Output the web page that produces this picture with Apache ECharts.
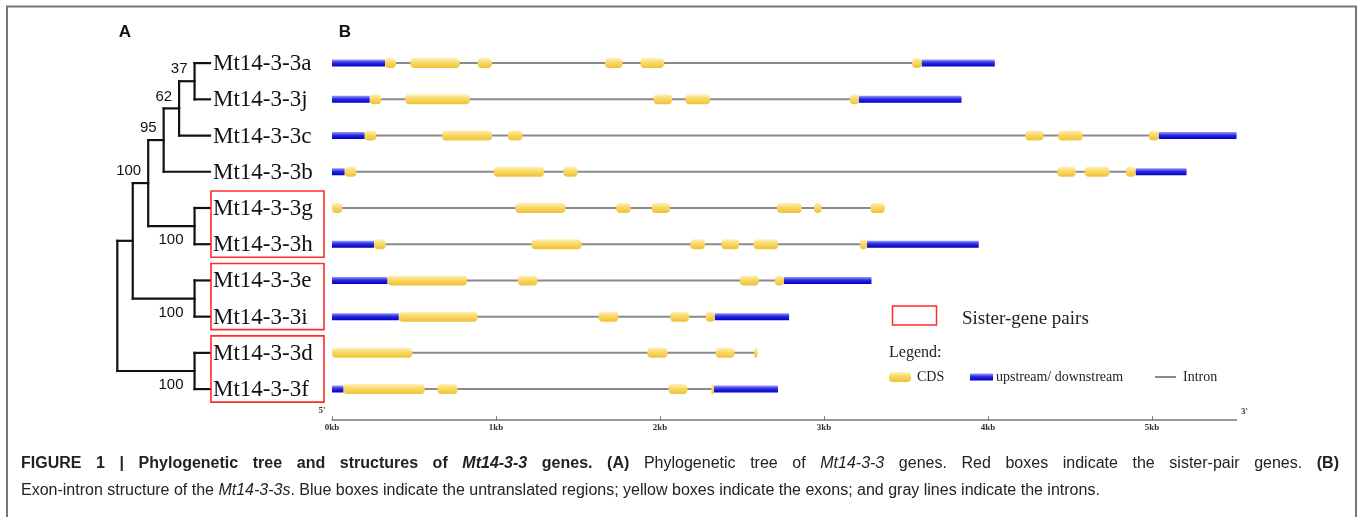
<!DOCTYPE html>
<html><head><meta charset="utf-8">
<script src="https://cdn.jsdelivr.net/npm/echarts@6/dist/echarts.min.js"></script>
<style>html,body{margin:0;padding:0;background:#fff}#c{width:1362px;height:517px}</style>
</head><body><div id="c"></div>
<script>
// ---------------- DATA ----------------
const geneNames = ['Mt14-3-3a','Mt14-3-3j','Mt14-3-3c','Mt14-3-3b','Mt14-3-3g','Mt14-3-3h','Mt14-3-3e','Mt14-3-3i','Mt14-3-3d','Mt14-3-3f'];
// untranslated regions (kb), one list per gene in the order above
const utrSegments = [
  [[0,0.323],[3.595,4.041]],
  [[0,0.230],[3.212,3.838]],
  [[0,0.199],[5.041,5.515]],
  [[0,0.077],[4.900,5.210]],
  [],
  [[0,0.256],[3.262,3.943]],
  [[0,0.338],[2.755,3.289]],
  [[0,0.407],[2.334,2.787]],
  [],
  [[0,0.070],[2.329,2.719]]
];
// coding exons (kb)
const cdsSegments = [
  [[0.323,0.390],[0.478,0.779],[0.888,0.975],[1.665,1.771],[1.881,2.025],[3.537,3.595]],
  [[0.230,0.300],[0.447,0.841],[1.961,2.073],[2.155,2.305],[3.157,3.212]],
  [[0.199,0.270],[0.671,0.976],[1.073,1.161],[4.228,4.338],[4.428,4.577],[4.980,5.041]],
  [[0.077,0.149],[0.986,1.293],[1.411,1.497],[4.423,4.535],[4.590,4.740],[4.840,4.900]],
  [[0,0.063],[1.118,1.423],[1.734,1.821],[1.949,2.061],[2.713,2.864],[2.939,2.985],[3.283,3.370]],
  [[0.256,0.327],[1.216,1.521],[2.185,2.274],[2.374,2.482],[2.571,2.720],[3.218,3.262]],
  [[0.338,0.823],[1.134,1.252],[2.486,2.602],[2.700,2.755]],
  [[0.407,0.887],[1.626,1.746],[2.063,2.177],[2.279,2.334]],
  [[0,0.490],[1.923,2.045],[2.340,2.454],[2.575,2.593]],
  [[0.070,0.565],[0.643,0.765],[2.053,2.167],[2.313,2.329]]
];
const axisTickValues = [0,1,2,3,4,5];
const axisMaxKb = 5.515;
// tree clades: [id, child1, child2, bootstrap]
const treeClades = [
  ['aj','Mt14-3-3a','Mt14-3-3j',37],
  ['ajc','aj','Mt14-3-3c',62],
  ['ajcb','ajc','Mt14-3-3b',95],
  ['gh','Mt14-3-3g','Mt14-3-3h',100],
  ['abcjgh','ajcb','gh',100],
  ['ei','Mt14-3-3e','Mt14-3-3i',100],
  ['n1','abcjgh','ei',null],
  ['df','Mt14-3-3d','Mt14-3-3f',100],
  ['root','n1','df',null]
];
const sisterPairs = [[4,5],[6,7],[8,9]];
const supportBelow = ['gh','ei','df'];

// caption words: [text, style]  (b bold, bi bold-italic, n normal, i italic)
const captionLine1 = [
  ['FIGURE','b'],['1','b'],['|','b'],['Phylogenetic','b'],['tree','b'],['and','b'],['structures','b'],['of','b'],
  ['Mt14-3-3','bi'],['genes.','b'],['(A)','b'],['Phylogenetic','n'],['tree','n'],['of','n'],['Mt14-3-3','i'],
  ['genes.','n'],['Red','n'],['boxes','n'],['indicate','n'],['the','n'],['sister-pair','n'],['genes.','n'],['(B)','b']
];
const captionLine2 = '{n|Exon-intron structure of the }{i|Mt14-3-3s}{n|. Blue boxes indicate the untranslated regions; yellow boxes indicate the exons; and gray lines indicate the introns.}';

// ---------------- BUILD ----------------
const nodes = {};
geneNames.forEach((n,i)=>{ nodes[n] = {level:0, y:i}; });
const treeLines = [];
const supportItems = [];
treeClades.forEach(([id,c1,c2,sup])=>{
  const a = nodes[c1], b = nodes[c2];
  const lv = Math.max(a.level,b.level)+1;
  nodes[id] = {level:lv, y:(a.y+b.y)/2};
  treeLines.push([lv,a.y,lv,b.y]);
  treeLines.push([lv,a.y,a.level,a.y]);
  treeLines.push([lv,b.y,b.level,b.y]);
  if (sup !== null) supportItems.push([lv,(a.y+b.y)/2, sup, supportBelow.indexOf(id)>=0 ? 1 : 0]);
});
const treeDepth = nodes['root'].level;

const intronData = [], utrData = [], cdsData = [];
geneNames.forEach((n,i)=>{
  const all = utrSegments[i].concat(cdsSegments[i]);
  const s = Math.min(...all.map(d=>d[0])), e = Math.max(...all.map(d=>d[1]));
  intronData.push([s,e,i]);
  utrSegments[i].forEach(d=>utrData.push([d[0],d[1],i]));
  cdsSegments[i].forEach(d=>cdsData.push([d[0],d[1],i]));
});

const yellowGrad = () => new echarts.graphic.LinearGradient(0,0,0,1,[
  {offset:0,color:'#fff0b8'},{offset:0.45,color:'#f8d868'},{offset:1,color:'#f0c232'}]);
const blueGrad = () => new echarts.graphic.LinearGradient(0,0,0,1,[
  {offset:0,color:'#9a9aff'},{offset:0.45,color:'#2a2ae2'},{offset:1,color:'#0000c0'}]);

const GRID_TOP = 45, GRID_H = 362.2;
const chart = echarts.init(document.getElementById('c'), null, {renderer:'canvas'});
const serif = '"Liberation Serif","Times New Roman",serif';
const sans = '"Liberation Sans",Arial,sans-serif';

function segRender(h, r, grad){
  return function(params, api){
    const s = api.coord([api.value(0), api.value(2)]);
    const e = api.coord([api.value(1), api.value(2)]);
    return {type:'rect', shape:{x:s[0], y:s[1]-h/2, width:Math.max(e[0]-s[0],1), height:h, r:r},
      style:{fill:grad()}};
  };
}

const option = {
  animation:false,
  backgroundColor:'#fff',
  grid:[
    {left:332, top:GRID_TOP, width:904.5, height:GRID_H},
    {left:117.3, top:GRID_TOP, width:92.7, height:GRID_H}
  ],
  xAxis:[
    {gridIndex:0, type:'value', min:0, max:axisMaxKb, interval:1, offset:13, position:'bottom',
     axisLine:{show:true, onZero:false, lineStyle:{color:'#7a7a7a', width:1.5}},
     axisTick:{show:true, inside:true, length:4, customValues:axisTickValues, lineStyle:{color:'#7a7a7a'}},
     axisLabel:{show:true, customValues:axisTickValues, formatter:v=>v+'kb', margin:3,
       fontFamily:serif, fontSize:9, fontWeight:'bold', color:'#333'},
     splitLine:{show:false}},
    {gridIndex:1, type:'value', min:0, max:treeDepth, inverse:true, show:false}
  ],
  yAxis:[
    {gridIndex:0, type:'value', min:-0.5, max:geneNames.length-0.5, inverse:true, show:false},
    {gridIndex:1, type:'value', min:-0.5, max:geneNames.length-0.5, inverse:true, show:false}
  ],
  series:[
    {type:'custom', xAxisIndex:0, yAxisIndex:0, data:intronData, z:1,
     renderItem:(params, api)=>{
       const s = api.coord([api.value(0), api.value(2)]);
       const e = api.coord([api.value(1), api.value(2)]);
       return {type:'line', shape:{x1:s[0], y1:s[1], x2:e[0], y2:e[1]}, style:{stroke:'#8a8a8a', lineWidth:2}};
     }},
    {type:'custom', xAxisIndex:0, yAxisIndex:0, data:utrData, z:2, renderItem:segRender(7,0,blueGrad)},
    {type:'custom', xAxisIndex:0, yAxisIndex:0, data:cdsData, z:3, renderItem:segRender(10,4,yellowGrad)},
    // tree branches
    {type:'custom', xAxisIndex:1, yAxisIndex:1, data:treeLines, z:2,
     renderItem:(params, api)=>{
       const p1 = api.coord([api.value(0), api.value(1)]);
       const p2 = api.coord([api.value(2), api.value(3)]);
       return {type:'line', shape:{x1:p1[0], y1:p1[1], x2:p2[0], y2:p2[1]},
         style:{stroke:'#111', lineWidth:2.2, lineCap:'square'}};
     }},
    // leaf labels
    {type:'custom', xAxisIndex:1, yAxisIndex:1, data:geneNames.map((n,i)=>[0,i]), z:3,
     renderItem:(params, api)=>{
       const p = api.coord([api.value(0), api.value(1)]);
       return {type:'text', x:p[0]+3, y:p[1]+1,
         style:{text:geneNames[params.dataIndex], font:'23px '+serif, fill:'#111', align:'left', verticalAlign:'middle'}};
     }},
    // bootstrap values
    {type:'custom', xAxisIndex:1, yAxisIndex:1, data:supportItems, z:3,
     renderItem:(params, api)=>{
       const p = api.coord([api.value(0), api.value(1)]);
       const below = api.value(3) === 1;
       return {type:'text', x: below ? p[0]-11 : p[0]-7, y: below ? p[1]+14 : p[1]-12,
         style:{text:String(api.value(2)), font:'15px '+sans, fill:'#111', align:'right', verticalAlign:'middle'}};
     }},
    // sister-pair boxes
    {type:'custom', xAxisIndex:1, yAxisIndex:1, data:sisterPairs, z:4,
     renderItem:(params, api)=>{
       const p1 = api.coord([0, api.value(0)]);
       const p2 = api.coord([0, api.value(1)]);
       return {type:'rect', shape:{x:p1[0]+1, y:p1[1]-17, width:113, height:p2[1]-p1[1]+30},
         style:{fill:'none', stroke:'#ff2a2a', lineWidth:1.6}};
     }}
  ]
};
chart.setOption(option);

const p0 = chart.convertToPixel({xAxisIndex:0, yAxisIndex:0}, [0, geneNames.length-0.5]);
const p1 = chart.convertToPixel({xAxisIndex:0, yAxisIndex:0}, [axisMaxKb, geneNames.length-0.5]);
const axisY = p0[1] + 13;

// caption
const CAP_SIZE = 16;
const capFonts = {
  b:'bold '+CAP_SIZE+'px '+sans,
  bi:'italic bold '+CAP_SIZE+'px '+sans,
  n:CAP_SIZE+'px '+sans,
  i:'italic '+CAP_SIZE+'px '+sans
};
const mctx = document.createElement('canvas').getContext('2d');
function tw(t, f){ mctx.font = f; return mctx.measureText(t).width; }
const capLeft = 21, capRight = 1339, cap1Y = 464, cap2Y = 491;
const wordW = captionLine1.map(w=>tw(w[0], capFonts[w[1]]));
const natural = wordW.reduce((a,b)=>a+b,0);
const gap = (capRight - capLeft - natural) / (captionLine1.length-1);
const capGraphics = [];
let cx = capLeft;
captionLine1.forEach((w,k)=>{
  capGraphics.push({type:'text', x:cx, y:cap1Y, style:{text:w[0], font:capFonts[w[1]], fill:'#222', align:'left', verticalAlign:'middle'}});
  cx += wordW[k] + gap;
});
const captionRich = {
  n:{fontFamily:sans, fontSize:CAP_SIZE, fill:'#222'},
  i:{fontFamily:sans, fontSize:CAP_SIZE, fontStyle:'italic', fill:'#222'}
};
capGraphics.push({type:'text', x:capLeft, y:cap2Y, style:{text:captionLine2, rich:captionRich, verticalAlign:'middle', align:'left'}});

chart.setOption({graphic:[
  {type:'rect', shape:{x:7, y:6.5, width:1349, height:600}, style:{fill:'none', stroke:'#777', lineWidth:2}, silent:true},
  {type:'text', x:125, y:32, style:{text:'A', font:'bold 17px '+sans, fill:'#111', align:'center', verticalAlign:'middle'}},
  {type:'text', x:345, y:32, style:{text:'B', font:'bold 17px '+sans, fill:'#111', align:'center', verticalAlign:'middle'}},
  {type:'text', x:p0[0]-10, y:axisY-10, style:{text:"5'", font:'bold 9px '+serif, fill:'#333', align:'center', verticalAlign:'middle'}},
  {type:'text', x:p1[0]+8, y:axisY-9, style:{text:"3'", font:'bold 9px '+serif, fill:'#333', align:'center', verticalAlign:'middle'}},
  // legend
  {type:'rect', shape:{x:892.5, y:306, width:44, height:19}, style:{fill:'none', stroke:'#ff2a2a', lineWidth:1.5}},
  {type:'text', x:962, y:319, style:{text:'Sister-gene pairs', font:'19px '+serif, fill:'#222', align:'left', verticalAlign:'middle'}},
  {type:'text', x:889, y:353, style:{text:'Legend:', font:'16px '+serif, fill:'#222', align:'left', verticalAlign:'middle'}},
  {type:'rect', shape:{x:889, y:372, width:22, height:10, r:4}, style:{fill:yellowGrad()}},
  {type:'text', x:917, y:377, style:{text:'CDS', font:'14px '+serif, fill:'#222', align:'left', verticalAlign:'middle'}},
  {type:'rect', shape:{x:970, y:373.5, width:23, height:7}, style:{fill:blueGrad()}},
  {type:'text', x:996, y:377, style:{text:'upstream/ downstream', font:'14px '+serif, fill:'#222', align:'left', verticalAlign:'middle'}},
  {type:'line', shape:{x1:1155, y1:377, x2:1176, y2:377}, style:{stroke:'#8a8a8a', lineWidth:2}},
  {type:'text', x:1183, y:377, style:{text:'Intron', font:'14px '+serif, fill:'#222', align:'left', verticalAlign:'middle'}}
].concat(capGraphics)});
</script>
</body></html>
